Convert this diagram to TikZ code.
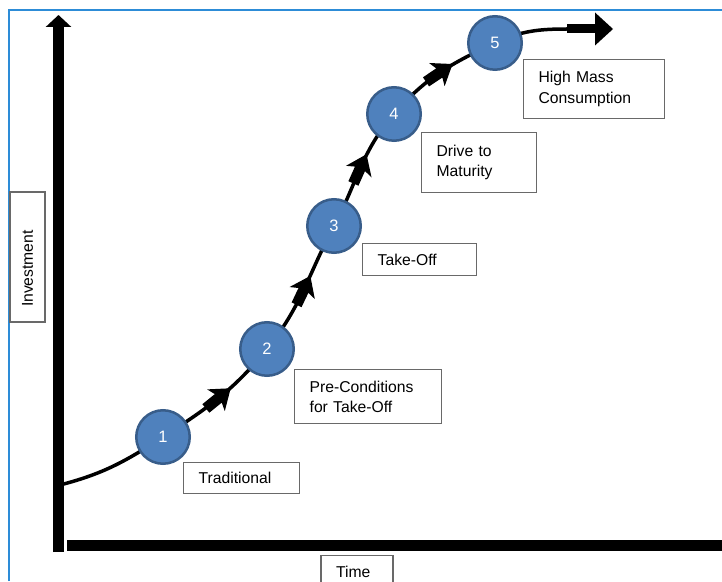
\documentclass[tikz,border=0pt]{standalone}
\usepackage{fontspec}
\setmainfont{Liberation Sans}
\usetikzlibrary{arrows.meta,backgrounds,decorations.markings}

\definecolor{stageblue}{RGB}{79,129,189}
\definecolor{stageedge}{RGB}{56,93,138}
\definecolor{boxgray}{RGB}{105,105,105}
\definecolor{frameblue}{RGB}{45,140,215}

\tikzset{
  stage/.style={circle,fill=stageblue,draw=stageedge,line width=2.5pt,
    minimum size=53.5pt,inner sep=0pt,text=white,font=\fontsize{16.5}{18}\selectfont},
  labelbox/.style={draw=boxgray,line width=1.3pt,anchor=north west,inner xsep=15pt,
    inner ysep=4pt,align=left,font=\fontsize{15.7}{20.5}\selectfont},
  axis/.style={line width=11pt,-{Triangle[length=12pt,width=25pt]}},
  growth/.style={line width=3.5pt},
  midarrow/.style={postaction={decorate},decoration={markings,
    mark=at position 0.5 with {\fill (15,0) -- (-4,14) -- (-1,5.5) -- (-17,5.5)
      -- (-17,-5.5) -- (-1,-5.5) -- (-4,-14) -- cycle;}}}
}

\begin{document}
\begin{tikzpicture}[x=1pt,y=1pt]
  \useasboundingbox (0,0) rectangle (722,581);
  \clip (0,0) rectangle (722,581);
  % frame
  \draw[frameblue,line width=1.5pt] (9,0) -- (9,571) -- (722,571);
  % axes
  \draw[axis] (58.5,29) -- (58.5,566);
  \draw[axis] (67,36) -- (734,36);
  % stages
  \node[stage] (s1) at (163,144) {1};
  \node[stage] (s2) at (267,232) {2};
  \node[stage] (s3) at (334,355) {3};
  \node[stage] (s4) at (394,467) {4};
  \node[stage] (s5) at (495,538) {5};
  % labels
  \node[labelbox,text width=86pt,minimum height=31pt] (trad) at (183,119) {Traditional};
  \node[labelbox,text width=117pt,minimum height=54pt] (pre) at (294,212) {Pre-Conditions\\for Take-Off};
  \node[labelbox,text width=84pt,minimum height=32pt] (take) at (362,338) {Take-Off};
  \node[labelbox,text width=85pt,minimum height=60pt] (drive) at (421,449) {Drive to\\Maturity};
  \node[labelbox,text width=111pt,minimum height=59pt] (mass) at (523,522) {High Mass\\Consumption};
  \node[labelbox,rotate=90,anchor=center,text width=100pt,minimum height=35pt] (inv) at (27.5,324) {Investment};
  \node[labelbox,anchor=north,text width=42pt,minimum height=32pt] (time) at (357,26) {Time};
  % curve
  \coordinate (origin) at (63.75,97);
  \coordinate (top) at (568,552);
  \begin{scope}[on background layer]
    \draw[growth] (origin) to[out=15,in=213] (s1.center);
    \draw[growth,midarrow] (s1.center) to[out=33,in=231] (s2.center);
    \draw[growth,midarrow] (s2.center) to[out=51,in=242] (s3.center);
    \draw[growth,midarrow] (s3.center) to[out=62,in=229] (s4.center);
    \draw[growth,midarrow] (s4.center) to[out=49,in=205] (s5.center);
    \draw[growth] (s5.center) to[out=25,in=180] (top);
  \end{scope}
  \fill (top) ++(-1,-4.5) rectangle ++(28,9);
  \fill (top) ++(27,-16.5) -- ++(18,16.5) -- ++(-18,16.5) -- cycle;
\end{tikzpicture}
\end{document}
